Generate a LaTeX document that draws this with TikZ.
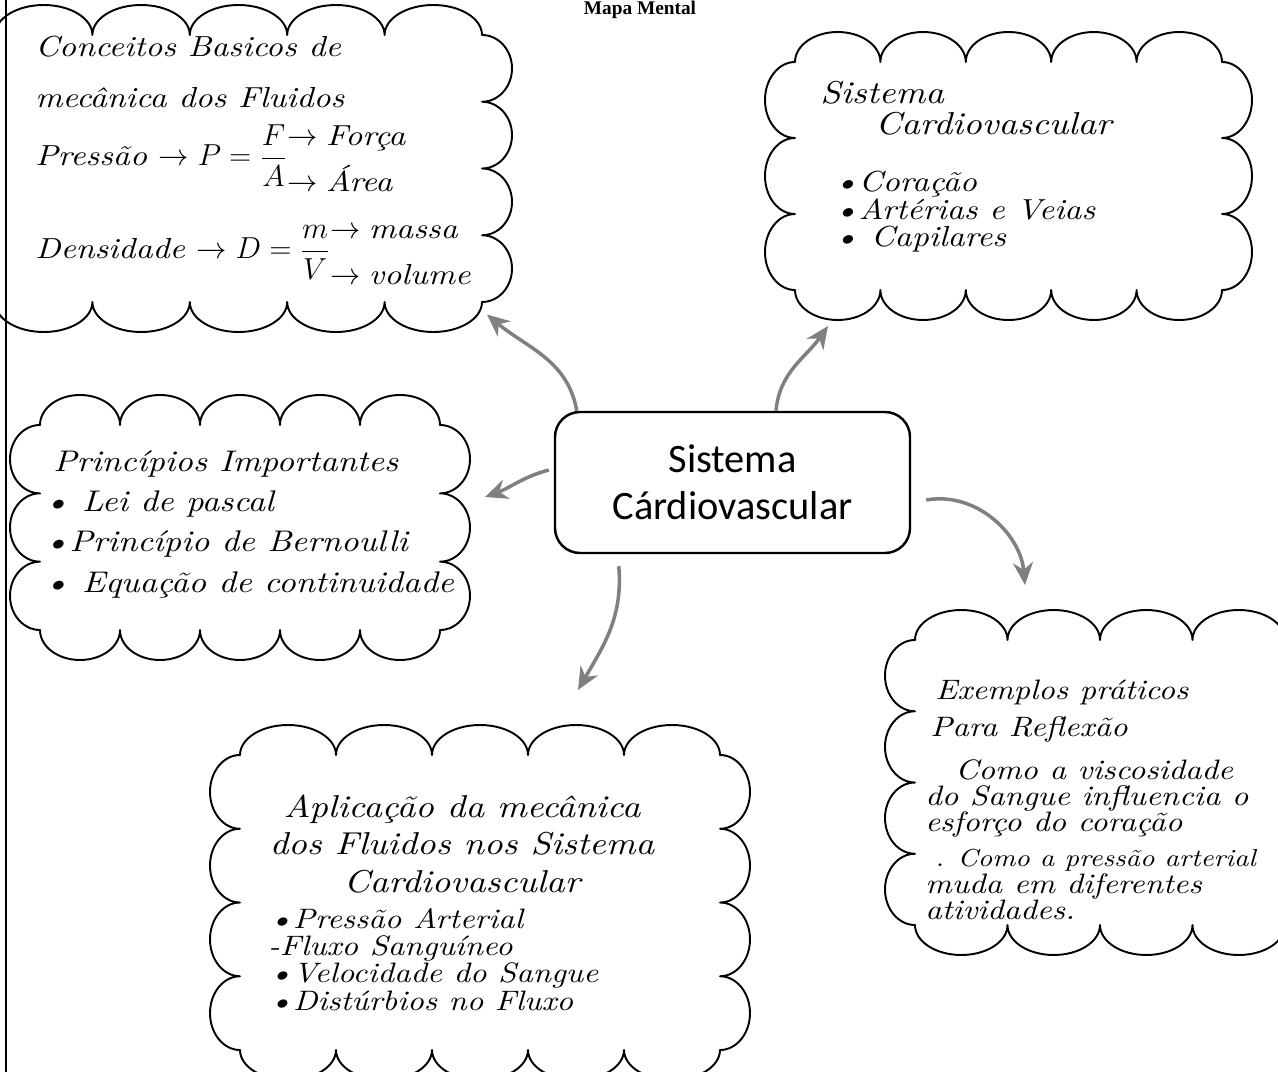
\documentclass[tikz,border=0pt]{standalone}
\usepackage{fontspec}
\newfontfamily\caixafont{Carlito}
\newfontfamily\titulofont{Liberation Serif}
\newfontfamily\maofont{lmroman10-italic.otf}[FakeStretch=1.15]
\usetikzlibrary{arrows.meta,positioning}

\tikzset{
  nuvem/.style={inner sep=0pt, outer sep=0pt},
  contorno/.style={draw, line width=1.1pt, line join=round},
  texto/.style={align=left, inner sep=0pt},
  seta/.style={->, >={Stealth[length=0.45cm,width=0.4cm]}, line width=2pt, draw=black!50},
}

% contorno de nuvem: no, largura, altura, bolhas em x, bolhas em y
\newcommand{\contorno}[5]{%
  \draw[contorno] (#1.north west)
    \foreach \k in {1,...,#4} {arc[start angle=180, end angle=0, x radius=#2/(2*#4), y radius=0.6]}
    \foreach \k in {1,...,#5} {arc[start angle=90, end angle=-90, x radius=0.6, y radius=#3/(2*#5)]}
    \foreach \k in {1,...,#4} {arc[start angle=0, end angle=-180, x radius=#2/(2*#4), y radius=0.6]}
    \foreach \k in {1,...,#5} {arc[start angle=-90, end angle=-270, x radius=0.6, y radius=#3/(2*#5)]}
    -- cycle;}

\begin{document}
\begin{tikzpicture}
\useasboundingbox (0,0) rectangle (25.56,-21.44);
\draw[line width=1.2pt] (0.12,0) -- (0.12,-21.44);
\node[anchor=base, font=\titulofont\bfseries\fontsize{11}{13}\selectfont] (titulo) at (12.8,-0.28) {Mapa Mental};

% no central
\node[draw, rounded corners=0.5cm, line width=1.4pt, minimum width=7.1cm, minimum height=2.82cm,
  align=center, font=\caixafont\fontsize{23}{27}\selectfont] (centro) at (14.65,-9.65) {Sistema\\Cárdiovascular};

% nuvens
\node[nuvem, minimum width=9.74cm, minimum height=5.34cm] (conc) at (4.77,-3.37) {};
\node[nuvem, minimum width=8.54cm, minimum height=4.56cm] (sist) at (20.17,-3.52) {};
\node[nuvem, minimum width=8.0cm, minimum height=4.1cm] (princ) at (4.8,-10.55) {};
\node[nuvem, minimum width=9.6cm, minimum height=5.9cm] (aplic) at (9.6,-18.05) {};
\node[nuvem, minimum width=7.4cm, minimum height=5.7cm] (exem) at (22.0,-15.65) {};
\contorno{conc}{9.74}{5.34}{5}{4}
\contorno{sist}{8.54}{4.56}{5}{3}
\contorno{princ}{8.0}{4.1}{5}{3}
\contorno{aplic}{9.6}{5.9}{5}{4}
\contorno{exem}{7.4}{5.7}{4}{4}

% textos
\node[texto, anchor=north west, font=\maofont\fontsize{16.5}{29}\selectfont] (tconc) at (0.7,-0.72)
  {Conceitos Basicos de\\
   mecânica dos Fluidos\\
   Pressão $\rightarrow P=\displaystyle\frac{F}{A}\begin{array}{@{}l@{}}\rightarrow\mbox{Força}\\[-3pt]\rightarrow\mbox{Área}\end{array}$\\[-3pt]
   Densidade $\rightarrow D=\displaystyle\frac{m}{V}\begin{array}{@{}l@{}}\rightarrow\mbox{massa}\\[-3pt]\rightarrow\mbox{volume}\end{array}$};
\node[texto, anchor=north west, font=\maofont\fontsize{18}{17.5}\selectfont] (tsist) at (16.4,-1.62)
  {Sistema\\\hspace*{1.1cm}Cardiovascular};
\node[texto, anchor=north west, font=\maofont\fontsize{16.5}{15.5}\selectfont] (lsist) at (16.66,-3.42)
  {\textbullet Coração\\\textbullet Artérias e Veias\\\textbullet\ Capilares};
\node[texto, anchor=north west, font=\maofont\fontsize{17}{23}\selectfont] (tprinc) at (0.86,-9.0)
  {\hspace*{0.2cm}Princípios Importantes\\\textbullet\ Lei de pascal\\\textbullet Princípio de Bernoulli\\\textbullet\ Equação de continuidade};
\node[texto, align=center, anchor=north, font=\maofont\fontsize{18}{21.5}\selectfont] (taplic) at (9.24,-15.88)
  {Aplicação da mecânica\\dos Fluidos nos Sistema\\Cardiovascular};
\node[texto, anchor=north west, font=\maofont\fontsize{16}{15.5}\selectfont] (laplic) at (5.36,-18.16)
  {\textbullet Pressão Arterial\\-Fluxo Sanguíneo\\\textbullet Velocidade do Sangue\\\textbullet Distúrbios no Fluxo};
\node[texto, anchor=north west, font=\maofont\fontsize{16}{15}\selectfont] (texem) at (18.5,-13.6)
  {\hspace*{0.2cm}Exemplos práticos\\[6pt]
   \hspace*{0.1cm}Para Reflexão\\[9pt]
   \hspace*{0.6cm}Como a viscosidade\\
   do Sangue influencia o\\
   esforço do coração\\[5pt]
   \hspace*{0.2cm}{\fontsize{14}{15}\selectfont. Como a pressão arterial}\\
   muda em diferentes\\
   atividades.};

% setas
\draw[seta] ([xshift=0.46cm]centro.north west) to[out=100,in=-40] ([shift={(0.1,-0.25)}]conc.south east);
\draw[seta] ([xshift=0.87cm]centro.north) to[out=85,in=-125] ([shift={(0.66,-0.72)}]sist.south west);
\draw[seta] ([shift={(-0.1,0.25)}]centro.west) to[out=195,in=20] ([shift={(0.9,0.61)}]princ.east);
\draw[seta] ([shift={(1.3,-0.24)}]centro.south west) to[out=-85,in=60] ([shift={(1.96,1.3)}]aplic.north);
\draw[seta] ([shift={(0.3,-0.35)}]centro.east) to[out=10,in=95] ([shift={(2.2,1.1)}]exem.north west);
\end{tikzpicture}
\end{document}
